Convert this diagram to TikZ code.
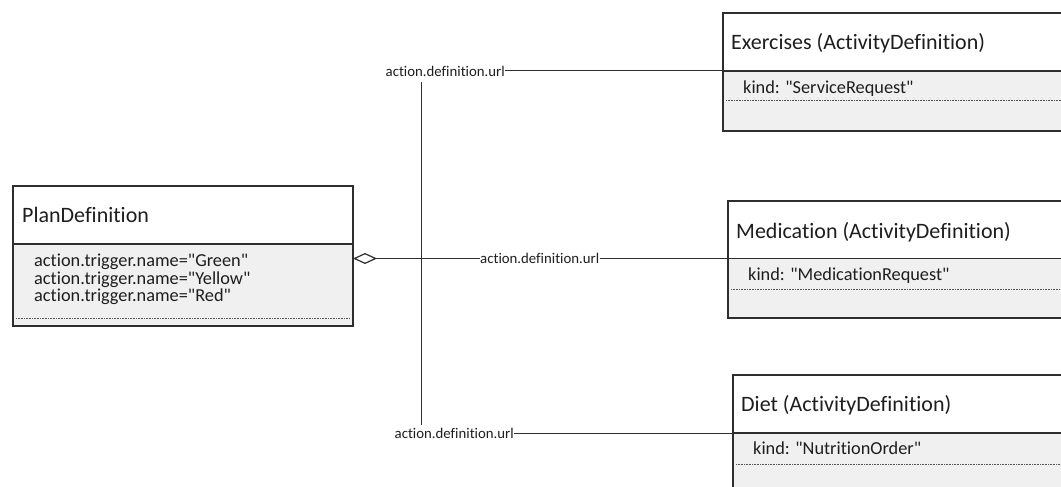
\documentclass[tikz,border=0pt]{standalone}
\usepackage{fontspec}
\setmainfont{Carlito}[Ligatures={TeXOff,CommonOff}]
\usetikzlibrary{arrows.meta}
\definecolor{bord}{HTML}{2E2E2E}
\definecolor{bodyfill}{HTML}{F0F0F0}
\definecolor{txt}{HTML}{1E1E1E}
\definecolor{dotc}{HTML}{555555}
\begin{document}
\begin{tikzpicture}[x=1pt,y=-1pt,
  hdrbox/.style={draw=bord, fill=white, line width=1.2pt, anchor=north west, inner sep=0pt, outer sep=0pt},
  bodybox/.style={draw=bord, fill=bodyfill, line width=1.2pt, anchor=north west, inner sep=0pt, outer sep=0pt},
  ttl/.style={anchor=base west, inner sep=0pt, text=txt, font=\fontsize{22}{26}\selectfont},
  attr/.style={anchor=base west, inner sep=0pt, text=txt, font=\fontsize{18.3}{20}\selectfont},
  lbl/.style={inner sep=0pt, text=txt, font=\fontsize{14.8}{17}\selectfont},
  conn/.style={draw=bord, line width=1pt},
  dotline/.style={draw=dotc, line width=0.8pt, dash pattern=on 0.8pt off 0.8pt}
]
\clip (0,0) rectangle (1061,487);
\fill[white] (0,0) rectangle (1061,487);

% PlanDefinition
\node[hdrbox, minimum width=340pt, minimum height=58pt] (planhead) at (13,186) {};
\node[bodybox, minimum width=340pt, minimum height=82pt] (planbody) at (13,244) {};
\node[ttl] (plantitle) at (22,222) {PlanDefinition};
\node[attr] (pa1) at (34,266.5) {action.trigger.name="Green"};
\node[attr] (pa2) at (34,284) {action.trigger.name="Yellow"};
\node[attr] (pa3) at (34,301.5) {action.trigger.name="Red"};
\draw[dotline] (16,318) -- (350,318);

% Exercises
\node[hdrbox, minimum width=360pt, minimum height=58pt] (exhead) at (723,13) {};
\node[bodybox, minimum width=360pt, minimum height=60pt] (exbody) at (723,71) {};
\node[ttl] (extitle) at (731,50) {Exercises (ActivityDefinition)};
\node[attr] (exattr) at (743,93) {kind: "ServiceRequest"};
\draw[dotline] (726,100) -- (1061,100);

% Medication
\node[hdrbox, minimum width=360pt, minimum height=57.5pt] (medhead) at (728,201) {};
\node[bodybox, minimum width=360pt, minimum height=59.5pt] (medbody) at (728,258.5) {};
\node[ttl] (medtitle) at (736,238.5) {Medication (ActivityDefinition)};
\node[attr] (medattr) at (748,280.5) {kind: "MedicationRequest"};
\draw[dotline] (731,289) -- (1061,289);

% Diet
\node[hdrbox, minimum width=360pt, minimum height=58pt] (diethead) at (733,375) {};
\node[bodybox, minimum width=360pt, minimum height=70pt] (dietbody) at (733,433) {};
\node[ttl] (diettitle) at (741,411) {Diet (ActivityDefinition)};
\node[attr] (dietattr) at (753,454) {kind: "NutritionOrder"};
\draw[dotline] (736,464) -- (1061,464);

% connectors
\coordinate (pd) at (353,258.5);
\coordinate (j2) at (421.5,258.5);
\coordinate (vtop) at (421.5,82);
\coordinate (vbot) at (421.5,425);
\node[lbl, anchor=east] (l1) at (505,71) {action.definition.url};
\node[lbl, anchor=west] (l2) at (480,258.5) {action.definition.url};
\node[lbl, anchor=east] (l3) at (514,433) {action.definition.url};

\draw[conn] (vtop) -- (vbot);
\draw[conn, {Diamond[open, length=24pt, width=11pt, line width=1.2pt]}-] (pd) -- (j2) -- (l2.west);
\draw[conn] (l2.east) -- (medbody.north west);
\draw[conn] (exbody.north west) -- (exbody.north west -| l1.east);
\draw[conn] (dietbody.north west) -- (dietbody.north west -| l3.east);
\end{tikzpicture}
\end{document}
